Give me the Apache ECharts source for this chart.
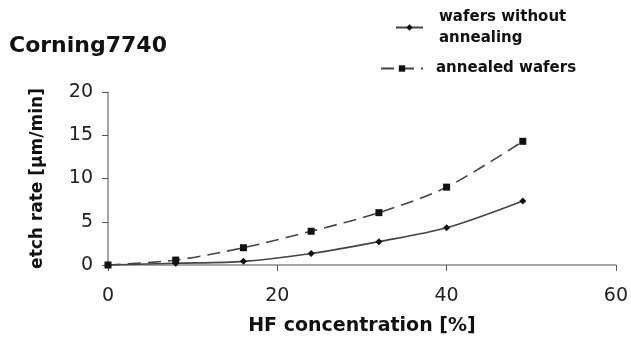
<!DOCTYPE html>
<html>
<head>
<meta charset="utf-8">
<script src="https://cdn.jsdelivr.net/npm/echarts@6/dist/echarts.min.js"></script>
<style>
  html, body { margin: 0; padding: 0; background: #fff; }
  #chart { width: 631px; height: 347px; }
</style>
</head>
<body>
<div id="chart"></div>
<script>
// HF 浓度 (%)
const hfConc = [0, 8, 16, 24, 32, 40, 49];
// 未退火
const withoutAnnealing = [0, 0.2, 0.42, 1.33, 2.7, 4.3, 7.4];
// 退火
const annealed = [0, 0.57, 2.0, 3.9, 6.05, 9.0, 14.3];

const xTicks = [0, 20, 40, 60];
const yTicks = [0, 5, 10, 15, 20];

const font = 'DejaVu Sans, sans-serif';

let myChart = echarts.init(document.getElementById('chart'));

myChart.setOption({
    animation: false,
    title: {
        text: 'Corning7740',
        left: 9,
        top: 35,
        padding: 0,
        textStyle: { fontFamily: font, fontSize: 22, fontWeight: 'bold', color: '#111' }
    },
    legend: [
        {
            data: [{
                name: 'wafers without\nannealing',
                textStyle: { padding: [21, 0, 0, 11] }
            }],
            left: 395,
            top: -4,
            padding: 0,
            itemWidth: 27,
            itemHeight: 8,
            textStyle: { fontFamily: font, fontSize: 15, fontWeight: 'bold', lineHeight: 21, color: '#111' }
        },
        {
            data: [{
                name: 'annealed wafers',
                textStyle: { padding: [0, 0, 0, 8] }
            }],
            left: 380,
            top: 58,
            padding: 0,
            itemWidth: 42,
            itemHeight: 8,
            textStyle: { fontFamily: font, fontSize: 15, fontWeight: 'bold', lineHeight: 21, color: '#111' }
        }
    ],
    grid: { left: 108, right: 14, top: 92, bottom: 82 },
    xAxis: {
        type: 'value',
        min: 0,
        max: 60,
        interval: 20,
        name: 'HF concentration [%]',
        nameLocation: 'middle',
        nameGap: 52,
        nameTextStyle: { fontFamily: font, fontSize: 19, fontWeight: 'bold', color: '#111' },
        axisLine: { lineStyle: { color: '#888', width: 1.5 } },
        axisTick: { show: true, length: 6, lineStyle: { color: '#555' } },
        axisLabel: {
            fontFamily: font, fontSize: 19, color: '#222', margin: 22,
            formatter: v => xTicks.includes(v) ? String(v) : ''
        },
        splitLine: { show: false }
    },
    yAxis: {
        type: 'value',
        min: 0,
        max: 20,
        interval: 5,
        name: 'etch rate [µm/min]',
        nameLocation: 'middle',
        nameGap: 62,
        nameTextStyle: { fontFamily: font, fontSize: 17, fontWeight: 'bold', color: '#111' },
        axisLine: { show: true, lineStyle: { color: '#888', width: 1.5 } },
        axisTick: { show: true, length: 6, lineStyle: { color: '#555' } },
        axisLabel: {
            fontFamily: font, fontSize: 19, color: '#222', margin: 15,
            formatter: v => yTicks.includes(v) ? String(v) : ''
        },
        splitLine: { show: false }
    },
    series: [
        {
            name: 'wafers without\nannealing',
            type: 'line',
            smooth: 0.3,
            data: hfConc.map((x, i) => [x, withoutAnnealing[i]]),
            symbol: 'diamond',
            symbolSize: 7,
            itemStyle: { color: '#111' },
            lineStyle: { color: '#444', width: 1.6 }
        },
        {
            name: 'annealed wafers',
            type: 'line',
            smooth: 0.3,
            data: hfConc.map((x, i) => [x, annealed[i]]),
            symbol: 'rect',
            symbolSize: 7,
            itemStyle: { color: '#111' },
            lineStyle: { color: '#444', width: 1.6, type: [13, 7] }
        }
    ]
});

window.addEventListener('resize', () => {
    myChart.resize();
});
</script>
</body>
</html>
